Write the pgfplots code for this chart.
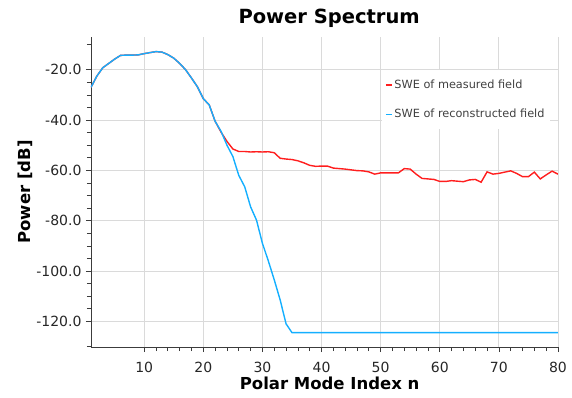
\documentclass[border=0pt]{standalone}
\usepackage{pgfplots}
\pgfplotsset{compat=1.18}
\usepackage{fontspec}
\setmainfont{DejaVu Sans}
\definecolor{swered}{RGB}{255,30,30}
\definecolor{sweblue}{RGB}{20,175,255}
\definecolor{gridgray}{RGB}{218,218,218}
\definecolor{axgray}{RGB}{60,60,60}
\begin{document}
\begin{tikzpicture}
\useasboundingbox (-91pt,-50pt) rectangle (481pt,347pt);
\begin{axis}[
  scale only axis,
  width=467pt, height=310pt,
  xmin=1, xmax=80, ymin=-130.2, ymax=-7,
  axis x line*=bottom, axis y line*=left,
  axis line style={axgray, line width=0.9pt, -},
  xtick={10,20,...,80},
  ytick={-120,-100,...,-20},
  minor x tick num=4,
  minor y tick num=3,
  extra y ticks={-10,-130},
  extra y tick labels={},
  extra y tick style={major tick length=4pt, grid=none},
  tick align=outside,
  major tick length=5pt, minor tick length=4pt,
  tick style={axgray, line width=0.7pt},
  grid=major,
  major grid style={gridgray, line width=0.9pt},
  yticklabel style={/pgf/number format/fixed, /pgf/number format/fixed zerofill, /pgf/number format/precision=1, xshift=-1pt},
  xticklabel style={yshift=-7pt},
  /pgf/number format/assume math mode=true,
  ticklabel style={font=\fontsize{14}{16}\selectfont, text=black!85},
  title={Power Spectrum},
  title style={font=\bfseries\fontsize{19.5}{22}\selectfont, at={(axis description cs:0.51,1.04)}, anchor=center},
  xlabel={Polar Mode Index n},
  xlabel style={font=\bfseries\fontsize{16.5}{19}\selectfont, at={(axis description cs:0.511,-0.116)}, anchor=center},
  ylabel={Power [dB]},
  ylabel style={font=\bfseries\fontsize{16.5}{19}\selectfont, at={(axis description cs:-0.141,0.5)}, anchor=center},
  legend style={at={(axis description cs:0.623,0.894)}, anchor=north west, draw=none, fill=white,
    font=\fontsize{11.3}{13}\selectfont, text=black!75, row sep=15pt, inner xsep=3pt, inner ysep=8pt,
    /tikz/every even column/.append style={column sep=1pt}},
  legend cell align=left,
  legend image code/.code={\draw[#1, line width=1.3pt] (0pt,0pt) -- (6pt,0pt);},
  clip=true,
]
\addplot[swered, line width=1.4pt] coordinates {
(1,-27) (2,-22.5) (3,-19.2) (4,-17.5) (5,-15.8) (6,-14.3) (7,-14.2) (8,-14.2) (9,-14.1) (10,-13.6)
(11,-13.2) (12,-12.8) (13,-13.0) (14,-14.0) (15,-15.4) (16,-17.5) (17,-20.0) (18,-23.3) (19,-26.8) (20,-31.5)
(21,-34) (22,-40.5) (23,-44.8) (24,-48.5) (25,-51.5) (26,-52.5) (27,-52.5) (28,-52.7) (29,-52.6) (30,-52.7)
(31,-52.6) (32,-53) (33,-55.2) (34,-55.5) (35,-55.7) (36,-56.2) (37,-57) (38,-58) (39,-58.4) (40,-58.3)
(41,-58.3) (42,-59.1) (43,-59.3) (44,-59.5) (45,-59.8) (46,-60.1) (47,-60.2) (48,-60.6) (49,-61.5) (50,-61)
(51,-61) (52,-61) (53,-61) (54,-59.3) (55,-59.5) (56,-61.5) (57,-63.2) (58,-63.4) (59,-63.6) (60,-64.4)
(61,-64.4) (62,-64.1) (63,-64.3) (64,-64.5) (65,-63.8) (66,-63.6) (67,-64.7) (68,-60.6) (69,-61.5) (70,-61.2)
(71,-60.7) (72,-60.2) (73,-61.2) (74,-62.5) (75,-62.5) (76,-60.7) (77,-63.4) (78,-61.8) (79,-60.3) (80,-61.5)
};
\addlegendentry{SWE of measured field}
\addplot[sweblue, line width=1.4pt] coordinates {
(1,-27) (2,-22.5) (3,-19.2) (4,-17.5) (5,-15.8) (6,-14.3) (7,-14.2) (8,-14.2) (9,-14.1) (10,-13.6)
(11,-13.2) (12,-12.8) (13,-13.0) (14,-14.0) (15,-15.4) (16,-17.5) (17,-20.0) (18,-23.3) (19,-26.8) (20,-31.5)
(21,-34) (22,-40.5) (23,-44.5) (24,-50) (25,-54.5) (26,-62) (27,-66.5) (28,-74.5) (29,-79.8) (30,-89)
(31,-96) (32,-103.5) (33,-111.5) (34,-121) (35,-124.5) (40,-124.5) (50,-124.5) (60,-124.5) (70,-124.5) (80,-124.5)
};
\addlegendentry{SWE of reconstructed field}
\end{axis}
\end{tikzpicture}
\end{document}
